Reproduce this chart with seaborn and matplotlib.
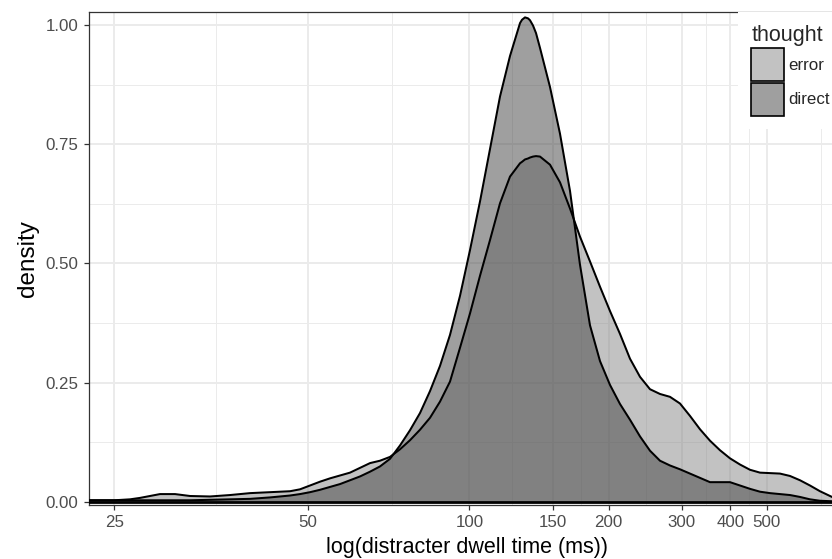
import numpy as np
import pandas as pd
import matplotlib
matplotlib.use("Agg")
import matplotlib.pyplot as plt
import seaborn as sns
from matplotlib.ticker import FixedLocator, FixedFormatter, NullFormatter
from matplotlib.patches import Patch

# ---- data (x = natural log of distracter dwell time in ms) ----
log_dwell = [3.1378, 3.1728, 3.2189, 3.2703, 3.3034, 3.3369, 3.3707, 3.4221, 3.4743,
             3.5450, 3.6173, 3.6909, 3.7661, 3.8429, 3.8818, 3.9212, 3.9609, 4.0010,
             4.0416, 4.0826, 4.1239, 4.1658, 4.2079, 4.2506, 4.2937, 4.3372, 4.3811,
             4.4255, 4.4704, 4.5157, 4.5615, 4.6077, 4.6544, 4.7016, 4.7492, 4.7973,
             4.8460, 4.8558, 4.8705, 4.8852, 4.8951, 4.9099, 4.9249, 4.9447, 4.9948,
             5.0454, 5.0966, 5.1482,
             5.2004, 5.2531, 5.3063, 5.3601, 5.4144, 5.4693, 5.5247, 5.5807, 5.6373,
             5.6944, 5.7521, 5.8104, 5.8693, 5.9288, 5.9889, 6.0496, 6.1109, 6.1728,
             6.2354, 6.2986, 6.3624, 6.4269, 6.4920, 6.5578, 6.6377, 6.7253]

density_error = [0.003, 0.003, 0.003, 0.005, 0.008, 0.012, 0.016, 0.016, 0.012,
                 0.011, 0.014, 0.018, 0.020, 0.022, 0.026, 0.034, 0.042, 0.049,
                 0.055, 0.061, 0.071, 0.081, 0.086, 0.094, 0.110, 0.129, 0.151,
                 0.176, 0.210, 0.252, 0.323, 0.395, 0.474, 0.549, 0.626, 0.682,
                 0.710, 0.713, 0.718, 0.720, 0.722, 0.724, 0.725, 0.724, 0.707,
                 0.670, 0.615, 0.556,
                 0.504, 0.451, 0.400, 0.352, 0.300, 0.262, 0.236, 0.226, 0.220,
                 0.206, 0.180, 0.152, 0.128, 0.108, 0.091, 0.078, 0.067, 0.061,
                 0.060, 0.059, 0.054, 0.045, 0.034, 0.022, 0.010, 0.003]

density_direct = [0.003, 0.003, 0.003, 0.003, 0.003, 0.003, 0.003, 0.003, 0.003,
                  0.004, 0.005, 0.006, 0.009, 0.013, 0.016, 0.020, 0.025, 0.031,
                  0.037, 0.045, 0.053, 0.063, 0.074, 0.090, 0.118, 0.150, 0.186,
                  0.232, 0.285, 0.350, 0.432, 0.528, 0.630, 0.740, 0.850, 0.935,
                  1.004, 1.011, 1.016, 1.014, 1.010, 0.999, 0.983, 0.952, 0.870,
                  0.772, 0.652, 0.497,
                  0.370, 0.295, 0.245, 0.205, 0.172, 0.137, 0.107, 0.086, 0.076,
                  0.068, 0.059, 0.050, 0.041, 0.041, 0.041, 0.034, 0.027, 0.021,
                  0.018, 0.016, 0.014, 0.010, 0.005, 0.002, 0.001, 0.000]

thought_levels = ["error", "direct"]
tick_ms = [25, 50, 100, 150, 200, 300, 400, 500]
tick_labels = ["25", "50", "100", "150", "200", "300", "400", "500"]
y_ticks = [0.00, 0.25, 0.50, 0.75, 1.00]
y_tick_labels = ["0.00", "0.25", "0.50", "0.75", "1.00"]

fill_colors = {"error": (0.53, 0.53, 0.53, 0.5), "direct": (0.255, 0.255, 0.255, 0.5)}

df = pd.DataFrame({
    "log_dwell": log_dwell * 2,
    "density": density_error + density_direct,
    "thought": ["error"] * len(log_dwell) + ["direct"] * len(log_dwell),
})

sns.set_theme(style="white")
plt.rcParams["font.family"] = ["Liberation Sans", "DejaVu Sans"]

fig = plt.figure(figsize=(8.32, 5.59), dpi=100)
W, H = 832, 559
ax = fig.add_axes([89 / W, 54 / H, 756 / W, 493 / H])

for lvl in thought_levels:
    sub = df[df["thought"] == lvl]
    ax.fill_between(sub["log_dwell"], sub["density"], 0,
                    facecolor=fill_colors[lvl], edgecolor="none", zorder=2)
    sns.lineplot(data=sub, x="log_dwell", y="density", color="black",
                 linewidth=1.45, estimator=None, sort=False, ax=ax, zorder=3,
                 solid_joinstyle="round")
ax.axhline(0, color="black", linewidth=2.0, zorder=3)

ax.set_xscale("log")
ax.set_xlim(log_dwell[0], log_dwell[-1])
ax.set_ylim(-0.0069, 1.0273)

tick_pos = np.log(tick_ms)
minor_pos = list((tick_pos[:-1] + tick_pos[1:]) / 2)
minor_pos.append(tick_pos[-1] + (tick_pos[1] - tick_pos[0]) / 2)
ax.xaxis.set_major_locator(FixedLocator(tick_pos))
ax.xaxis.set_major_formatter(FixedFormatter(tick_labels))
ax.xaxis.set_minor_locator(FixedLocator(minor_pos))
ax.xaxis.set_minor_formatter(NullFormatter())
ax.yaxis.set_major_locator(FixedLocator(y_ticks))
ax.yaxis.set_major_formatter(FixedFormatter(y_tick_labels))
ax.yaxis.set_minor_locator(FixedLocator([0.125, 0.375, 0.625, 0.875]))

ax.set_axisbelow(True)
ax.grid(which="major", color="#EBEBEB", linewidth=1.4)
ax.grid(which="minor", color="#EBEBEB", linewidth=0.7)

ax.tick_params(which="major", direction="out", length=3.5, width=0.9, color="#333333",
               labelsize=12.2, labelcolor="#4D4D4D", bottom=True, left=True)
ax.tick_params(axis="x", which="major", pad=4)
ax.tick_params(axis="y", which="major", pad=4)
ax.tick_params(which="minor", length=0)
for s in ax.spines.values():
    s.set_visible(True)
    s.set_color("#333333")
    s.set_linewidth(0.9)

ax.set_xlabel("log(distracter dwell time (ms))", fontsize=15.5, color="black", labelpad=5)
ax.set_ylabel("density", fontsize=17.5, color="black", labelpad=5)

handles = [Patch(facecolor=fill_colors[l], edgecolor="black", linewidth=1.2, label=l)
           for l in thought_levels]
leg = ax.legend(handles=handles, title="thought", loc="upper left",
                bbox_to_anchor=(738 / W, (H - 12) / H), bbox_transform=fig.transFigure,
                borderaxespad=0, frameon=True, fancybox=False, framealpha=1,
                facecolor="white", edgecolor="none", fontsize=12.2, title_fontsize=15.5,
                handlelength=1.95, handleheight=2.62, handletextpad=0.25,
                labelspacing=0.1, borderpad=0.78, alignment="left")
leg.set_zorder(10)

fig.savefig("out.png", dpi=100)
